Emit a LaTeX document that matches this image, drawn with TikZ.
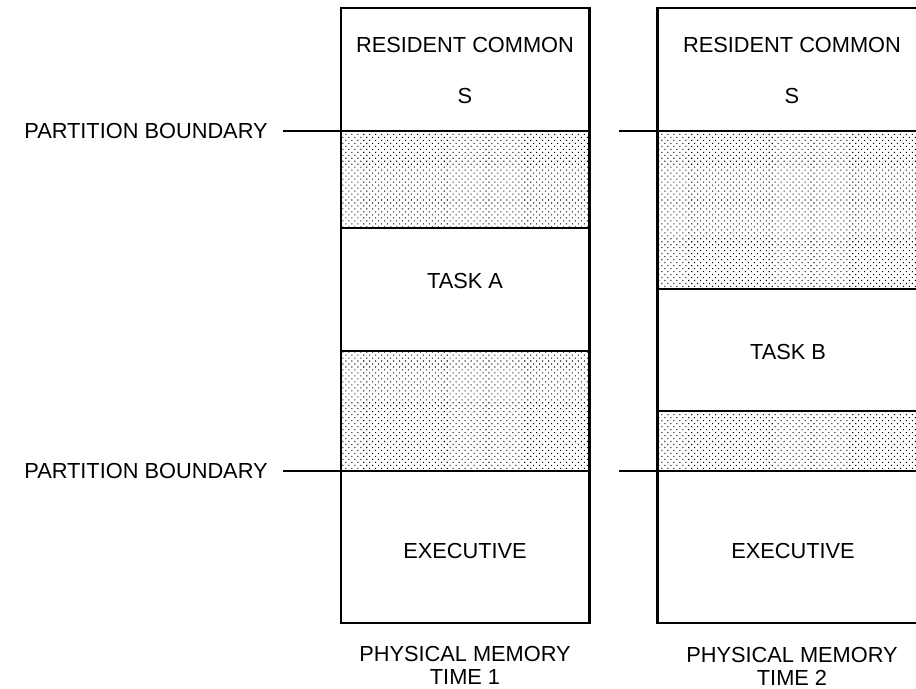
\documentclass[tikz,border=0pt]{standalone}
\usepackage{fontspec}
\setmainfont{Liberation Sans}
\usepackage{tikz}
\usetikzlibrary{patterns.meta}

\begin{document}
\begin{tikzpicture}[x=0.02cm,y=-0.02cm,
  every node/.style={font=\fontsize{12.4}{15}\selectfont,inner sep=0pt,text depth=0pt},
  wall/.style={line width=1.7pt},
  seam/.style={line width=1.1pt},
  free/.style={pattern={Dots[distance=2.4pt,angle=45,radius=0.42pt]}}]
  \useasboundingbox (0,0) rectangle (916,689);
  \clip (0,0) rectangle (916,689);
  % memory at time 1
  \fill[free] (341,131) rectangle (589,228);
  \fill[free] (341,351) rectangle (589,471);
  \coordinate (lo1) at (589,131);
  \coordinate (lo2) at (589,471);
  \draw[seam] (341,228) -- (589,228) (341,351) -- (589,351);
  \draw[wall] (341,8) rectangle (589,623);
  % memory at time 2
  \fill[free] (657,131) rectangle (930,289);
  \fill[free] (657,411) rectangle (930,471);
  \coordinate (ro1) at (619,131);
  \coordinate (ro2) at (619,471);
  \coordinate (re1) at (930,131);
  \coordinate (re2) at (930,471);
  \draw[seam] (657,289) -- (930,289) (657,411) -- (930,411);
  \draw[wall] (657,8) rectangle (930,623);
  % partition boundaries
  \node[anchor=east] (pb1) at (268,131) {PARTITION BOUNDARY};
  \node[anchor=east] (pb2) at (268,471) {PARTITION BOUNDARY};
  \draw[seam] ([xshift=0.3cm]pb1.east) -- (lo1);
  \draw[seam] ([xshift=0.3cm]pb2.east) -- (lo2);
  \draw[seam] (ro1) -- (re1);
  \draw[seam] (ro2) -- (re2);
  % labels
  \node (rc1) at (465,45) {RESIDENT COMMON};
  \node (s1) at (465,96) {S};
  \node (ta) at (465,281) {TASK A};
  \node (ex1) at (465,551) {EXECUTIVE};
  \node (pm1) at (465,654) {PHYSICAL MEMORY};
  \node (t1) at (465,677) {TIME 1};
  \node (rc2) at (792,45) {RESIDENT COMMON};
  \node (s2) at (792,96) {S};
  \node (tb) at (788,352) {TASK B};
  \node (ex2) at (793,551) {EXECUTIVE};
  \node (pm2) at (792,655) {PHYSICAL MEMORY};
  \node (t2) at (792,678) {TIME 2};
\end{tikzpicture}
\end{document}
